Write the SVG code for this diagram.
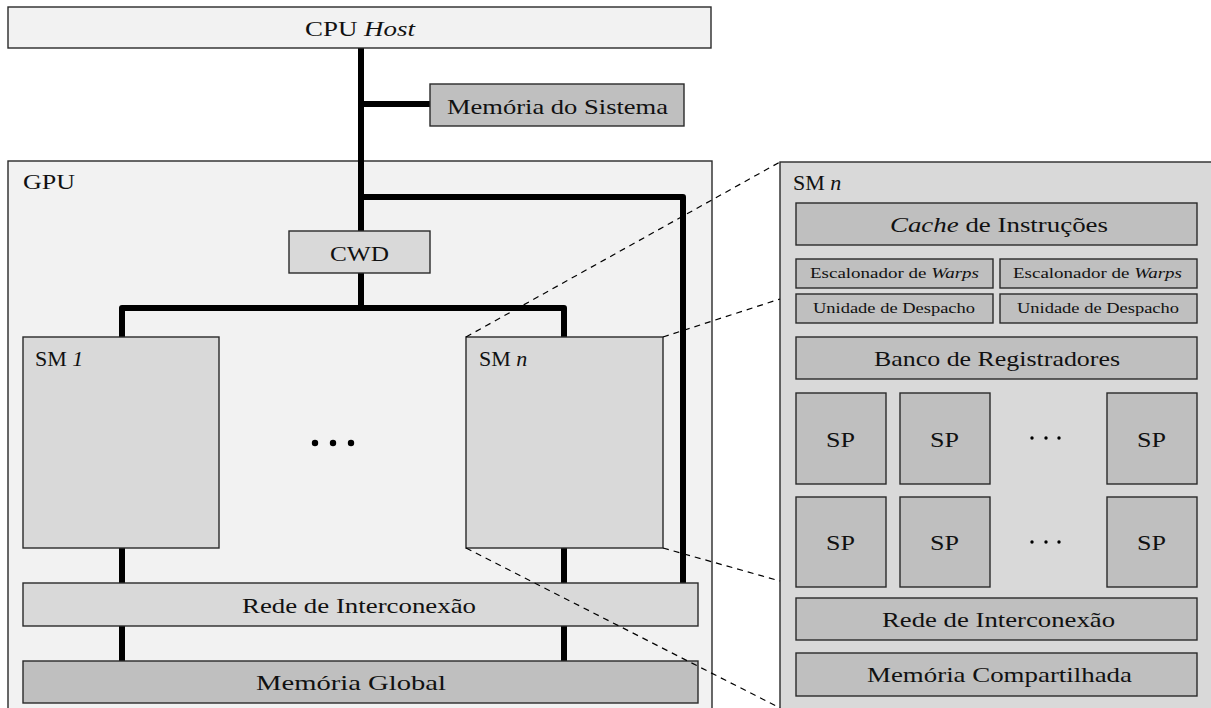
<svg xmlns="http://www.w3.org/2000/svg" width="1211" height="708" viewBox="0 0 1211 708" font-family="'Liberation Serif', Tinos, 'Times New Roman', 'DejaVu Serif', 'Noto Serif', serif">
<style>
.b{stroke:#2a2a2a;stroke-width:1.4}
.l1{fill:#f2f2f2}.l2{fill:#d9d9d9}.l3{fill:#bfbfbf}
text{fill:#111}
.t{font-size:22px}.s{font-size:15px}
.bus{stroke:#000;stroke-width:6;fill:none;stroke-linejoin:round}
.dash{stroke:#000;stroke-width:1.2;stroke-dasharray:6 5;fill:none}
</style>
<rect width="1211" height="708" fill="#fff"/>
<g id="gpu"><rect class="b l1" x="8" y="161" width="704" height="560"/><text class="t" x="23" y="189" textLength="52" lengthAdjust="spacingAndGlyphs">GPU</text></g>
<g id="smdetail"><rect class="b l2" x="780" y="162" width="440" height="560"/><text class="t" x="793" y="190">SM <tspan font-style="italic">n</tspan></text></g>
<g id="connectors">
<path class="bus" d="M361 48V231M361 104H430M361 197H683V583M361 273V308M122 337V308H564V337M122 548V583M564 548V583M122 626V661M564 626V661"/>
</g>
<g id="cpuhost"><rect class="b l1" x="8" y="7" width="703" height="41"/><text class="t" x="305" y="36" textLength="110" lengthAdjust="spacingAndGlyphs">CPU <tspan font-style="italic">Host</tspan></text></g>
<g id="memsis"><rect class="b l3" x="430" y="84" width="254" height="42"/><text class="t" x="447" y="114" textLength="221" lengthAdjust="spacingAndGlyphs">Memória do Sistema</text></g>
<g id="cwd"><rect class="b l2" x="289" y="231" width="141" height="42"/><text class="t" x="330" y="261" textLength="59" lengthAdjust="spacingAndGlyphs">CWD</text></g>
<g id="sm1"><rect class="b l2" x="23" y="337" width="196" height="211"/><text class="t" x="35" y="366">SM <tspan font-style="italic">1</tspan></text></g>
<g id="smn"><rect class="b l2" x="466" y="337" width="197" height="211"/><text class="t" x="479" y="366">SM <tspan font-style="italic">n</tspan></text></g>
<g id="dots"><circle cx="315" cy="443" r="3.2"/><circle cx="333" cy="443" r="3.2"/><circle cx="351" cy="443" r="3.2"/></g>
<g id="rede"><rect class="b l2" x="23" y="583" width="675" height="43"/><text class="t" x="242" y="613" textLength="234" lengthAdjust="spacingAndGlyphs">Rede de Interconexão</text></g>
<g id="memglobal"><rect class="b l3" x="23" y="661" width="675" height="42"/><text class="t" x="256" y="690" textLength="190" lengthAdjust="spacingAndGlyphs">Memória Global</text></g>
<g id="cache"><rect class="b l3" x="796" y="203" width="401" height="42"/><text class="t" x="890" y="232" textLength="218" lengthAdjust="spacingAndGlyphs"><tspan font-style="italic">Cache</tspan> de Instruções</text></g>
<g id="esc1"><rect class="b l3" x="796" y="259" width="197" height="29"/><text class="s" x="810" y="278" textLength="169" lengthAdjust="spacingAndGlyphs">Escalonador de <tspan font-style="italic">Warps</tspan></text></g>
<g id="esc2"><rect class="b l3" x="1000" y="259" width="197" height="29"/><text class="s" x="1013" y="278" textLength="169" lengthAdjust="spacingAndGlyphs">Escalonador de <tspan font-style="italic">Warps</tspan></text></g>
<g id="desp1"><rect class="b l3" x="796" y="294" width="197" height="29"/><text class="s" x="813" y="313" textLength="162" lengthAdjust="spacingAndGlyphs">Unidade de Despacho</text></g>
<g id="desp2"><rect class="b l3" x="1000" y="294" width="197" height="29"/><text class="s" x="1017" y="313" textLength="162" lengthAdjust="spacingAndGlyphs">Unidade de Despacho</text></g>
<g id="banco"><rect class="b l3" x="796" y="337" width="401" height="42"/><text class="t" x="874" y="366" textLength="246" lengthAdjust="spacingAndGlyphs">Banco de Registradores</text></g>
<g id="sp1"><rect class="b l3" x="796" y="393" width="90" height="91"/><text class="t" x="826" y="447" textLength="29" lengthAdjust="spacingAndGlyphs">SP</text></g>
<g id="sp2"><rect class="b l3" x="900" y="393" width="90" height="91"/><text class="t" x="930" y="447" textLength="29" lengthAdjust="spacingAndGlyphs">SP</text></g>
<g id="sp3"><rect class="b l3" x="1107" y="393" width="90" height="91"/><text class="t" x="1137" y="447" textLength="29" lengthAdjust="spacingAndGlyphs">SP</text></g>
<g id="sp4"><rect class="b l3" x="796" y="497" width="90" height="90"/><text class="t" x="826" y="550" textLength="29" lengthAdjust="spacingAndGlyphs">SP</text></g>
<g id="sp5"><rect class="b l3" x="900" y="497" width="90" height="90"/><text class="t" x="930" y="550" textLength="29" lengthAdjust="spacingAndGlyphs">SP</text></g>
<g id="sp6"><rect class="b l3" x="1107" y="497" width="90" height="90"/><text class="t" x="1137" y="550" textLength="29" lengthAdjust="spacingAndGlyphs">SP</text></g>
<g id="spdots"><circle cx="1032" cy="438" r="1.7"/><circle cx="1046" cy="438" r="1.7"/><circle cx="1059" cy="438" r="1.7"/><circle cx="1032" cy="542" r="1.7"/><circle cx="1046" cy="542" r="1.7"/><circle cx="1059" cy="542" r="1.7"/></g>
<g id="rede2"><rect class="b l3" x="796" y="598" width="401" height="42"/><text class="t" x="882" y="627" textLength="233" lengthAdjust="spacingAndGlyphs">Rede de Interconexão</text></g>
<g id="memcomp"><rect class="b l3" x="796" y="653" width="401" height="43"/><text class="t" x="867" y="682" textLength="265" lengthAdjust="spacingAndGlyphs">Memória Compartilhada</text></g>
<g id="zoomlines">
<path class="dash" d="M466 337L780 162M663 337L780 299M663 548L780 581M466 548L780 708"/>
</g>
</svg>
